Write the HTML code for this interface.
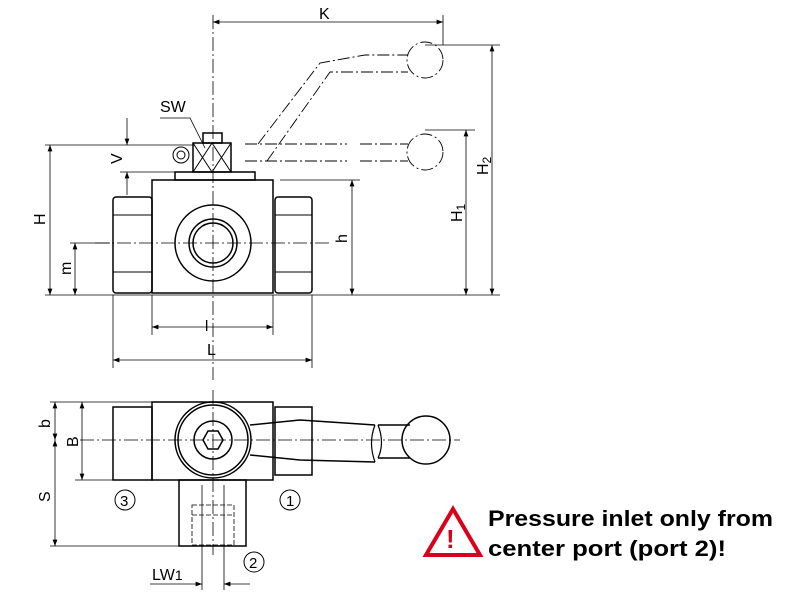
<!DOCTYPE html>
<html><head><meta charset="utf-8"><style>body{margin:0;background:#fff}svg{display:block}text{font-family:"Liberation Sans",sans-serif}</style></head><body>
<svg width="800" height="600" viewBox="0 0 800 600" xmlns="http://www.w3.org/2000/svg">
<defs><marker id="a" markerWidth="8" markerHeight="6" refX="8" refY="3" orient="auto-start-reverse"><path d="M0,0L8,3L0,6z" fill="#000"/></marker></defs>
<g stroke="#000" fill="none" stroke-width="1">
<g stroke-dasharray="14,3,2,3" stroke-width="0.8">
<line x1="213" y1="15" x2="213" y2="380"/>
<line x1="95" y1="243" x2="330" y2="243"/>
<line x1="80" y1="440" x2="460" y2="440"/>
<line x1="213" y1="390" x2="213" y2="555"/>
</g>
<g stroke-width="1.5">
<rect x="152" y="180" width="121" height="113"/>
<rect x="113" y="197" width="39" height="96" rx="3"/>
<rect x="275" y="197" width="37" height="96" rx="3"/>
<circle cx="213" cy="243" r="38"/>
<circle cx="213" cy="243" r="24"/>
<circle cx="213" cy="243" r="20"/>
<rect x="175" y="172" width="80" height="8"/>
<rect x="193" y="143" width="38" height="29"/>
<rect x="203" y="133" width="19" height="10"/>
</g>
<path d="M193,143L212,172M212,143L193,172M212,143L231,172M231,143L212,172"/>
<circle cx="181" cy="155" r="8"/><circle cx="181" cy="155" r="4"/>
<line x1="113" y1="215" x2="152" y2="215"/><line x1="113" y1="272" x2="152" y2="272"/>
<line x1="275" y1="215" x2="312" y2="215"/><line x1="275" y1="272" x2="312" y2="272"/>
<g stroke-dasharray="12,3,2,3" stroke-width="0.9">
<path d="M245,144L347,144M245,161L347,161M360,144L408,144M360,161L408,161"/>
<circle cx="425" cy="152" r="18"/>
<circle cx="425" cy="60" r="18"/>
<path d="M258,144L320,63L365,55L408,55M267,161L330,72L365,72L408,72"/>
</g>
<g stroke-width="0.8">
<line x1="45" y1="295" x2="500" y2="295"/>
<line x1="45" y1="145" x2="195" y2="145"/>
<line x1="120" y1="172" x2="175" y2="172"/>
<line x1="280" y1="180" x2="360" y2="180"/>
<line x1="70" y1="243" x2="110" y2="243"/>
<line x1="425" y1="130" x2="475" y2="130"/>
<line x1="425" y1="45" x2="500" y2="45"/>
<line x1="443" y1="15" x2="443" y2="45"/>
<line x1="152" y1="295" x2="152" y2="335"/><line x1="273" y1="295" x2="273" y2="335"/>
<line x1="113" y1="295" x2="113" y2="368"/><line x1="312" y1="295" x2="312" y2="368"/>
<line x1="213" y1="22" x2="443" y2="22" marker-start="url(#a)" marker-end="url(#a)"/>
<line x1="492" y1="45" x2="492" y2="295" marker-start="url(#a)" marker-end="url(#a)"/>
<line x1="466" y1="130" x2="466" y2="295" marker-start="url(#a)" marker-end="url(#a)"/>
<line x1="352" y1="180" x2="352" y2="295" marker-start="url(#a)" marker-end="url(#a)"/>
<line x1="50" y1="145" x2="50" y2="295" marker-start="url(#a)" marker-end="url(#a)"/>
<line x1="75" y1="243" x2="75" y2="295" marker-start="url(#a)" marker-end="url(#a)"/>
<line x1="127" y1="118" x2="127" y2="145" marker-end="url(#a)"/>
<line x1="127" y1="195" x2="127" y2="172" marker-end="url(#a)"/>
<line x1="152" y1="327" x2="273" y2="327" marker-start="url(#a)" marker-end="url(#a)"/>
<line x1="113" y1="360" x2="312" y2="360" marker-start="url(#a)" marker-end="url(#a)"/>
<path d="M160,118L190,118L205,148"/>
</g>
<g stroke-width="1.5">
<rect x="152" y="402" width="121" height="78"/>
<rect x="113" y="407" width="39" height="73"/>
<rect x="275" y="407" width="37" height="68"/>
<circle cx="213" cy="440" r="38"/>
<circle cx="213" cy="440" r="35"/>
<circle cx="213" cy="440" r="19"/>
<path d="M203,440L208,431L218,431L223,440L218,449L208,449z"/>
<rect x="179" y="480" width="67" height="66"/>
<path d="M250,425L300,420L375,425M250,455L300,460L375,462"/>
<path d="M378,425L410,425M378,458L410,458"/>
<circle cx="426" cy="440" r="24"/>
</g>
<path d="M375,425Q368,443 375,462M378,425Q385,443 378,458" stroke-width="1.2"/>
<g stroke-dasharray="5,2" stroke-width="0.8"><rect x="192" y="505" width="42" height="40"/><line x1="192" y1="515" x2="234" y2="515"/></g>
<line x1="202" y1="485" x2="202" y2="590" stroke-width="0.8"/><line x1="224" y1="485" x2="224" y2="590" stroke-width="0.8"/>
<g stroke-width="0.8">
<line x1="50" y1="402" x2="152" y2="402"/><line x1="75" y1="480" x2="152" y2="480"/>
<line x1="50" y1="546" x2="179" y2="546"/>
<line x1="55" y1="402" x2="55" y2="440" marker-start="url(#a)" marker-end="url(#a)"/>
<line x1="55" y1="440" x2="55" y2="546" marker-start="url(#a)" marker-end="url(#a)"/>
<line x1="82" y1="402" x2="82" y2="480" marker-start="url(#a)" marker-end="url(#a)"/>
<line x1="150" y1="584" x2="202" y2="584" marker-end="url(#a)"/>
<line x1="250" y1="584" x2="224" y2="584" marker-end="url(#a)"/>
</g>
<circle cx="125" cy="500" r="10"/><circle cx="290" cy="500" r="10"/><circle cx="254" cy="562" r="10"/>
<path d="M453,509L480,555L426,555z" stroke="#d9001b" stroke-width="4"/>
</g>
<g font-size="16" fill="#000">
<text x="319" y="19">K</text>
<text x="160" y="112">SW</text>
<text x="205" y="331" font-size="15">l</text>
<text x="207" y="355">L</text>
<text transform="translate(45,225) rotate(-90)">H</text>
<text transform="translate(71,275) rotate(-90)">m</text>
<text transform="translate(122,164) rotate(-90)">V</text>
<text transform="translate(347,243) rotate(-90)">h</text>
<text transform="translate(462,222) rotate(-90)">H<tspan font-size="12" dy="3">1</tspan></text>
<text transform="translate(488,175) rotate(-90)">H<tspan font-size="12" dy="3">2</tspan></text>
<text transform="translate(50,428) rotate(-90)">b</text>
<text transform="translate(78,447) rotate(-90)">B</text>
<text transform="translate(50,502) rotate(-90)">S</text>
<text x="120" y="506" font-size="15">3</text><text x="286" y="506" font-size="15">1</text><text x="249" y="568" font-size="15">2</text>
<text x="152" y="580">LW<tspan font-size="14">1</tspan></text>
<text x="446" y="548" font-size="26" font-weight="bold" fill="#d9001b">!</text>
<text x="488" y="526" font-size="22" font-weight="bold" textLength="285" lengthAdjust="spacingAndGlyphs">Pressure inlet only from</text>
<text x="488" y="556" font-size="22" font-weight="bold" textLength="238" lengthAdjust="spacingAndGlyphs">center port (port 2)!</text>
</g>
</svg>
</body></html>
